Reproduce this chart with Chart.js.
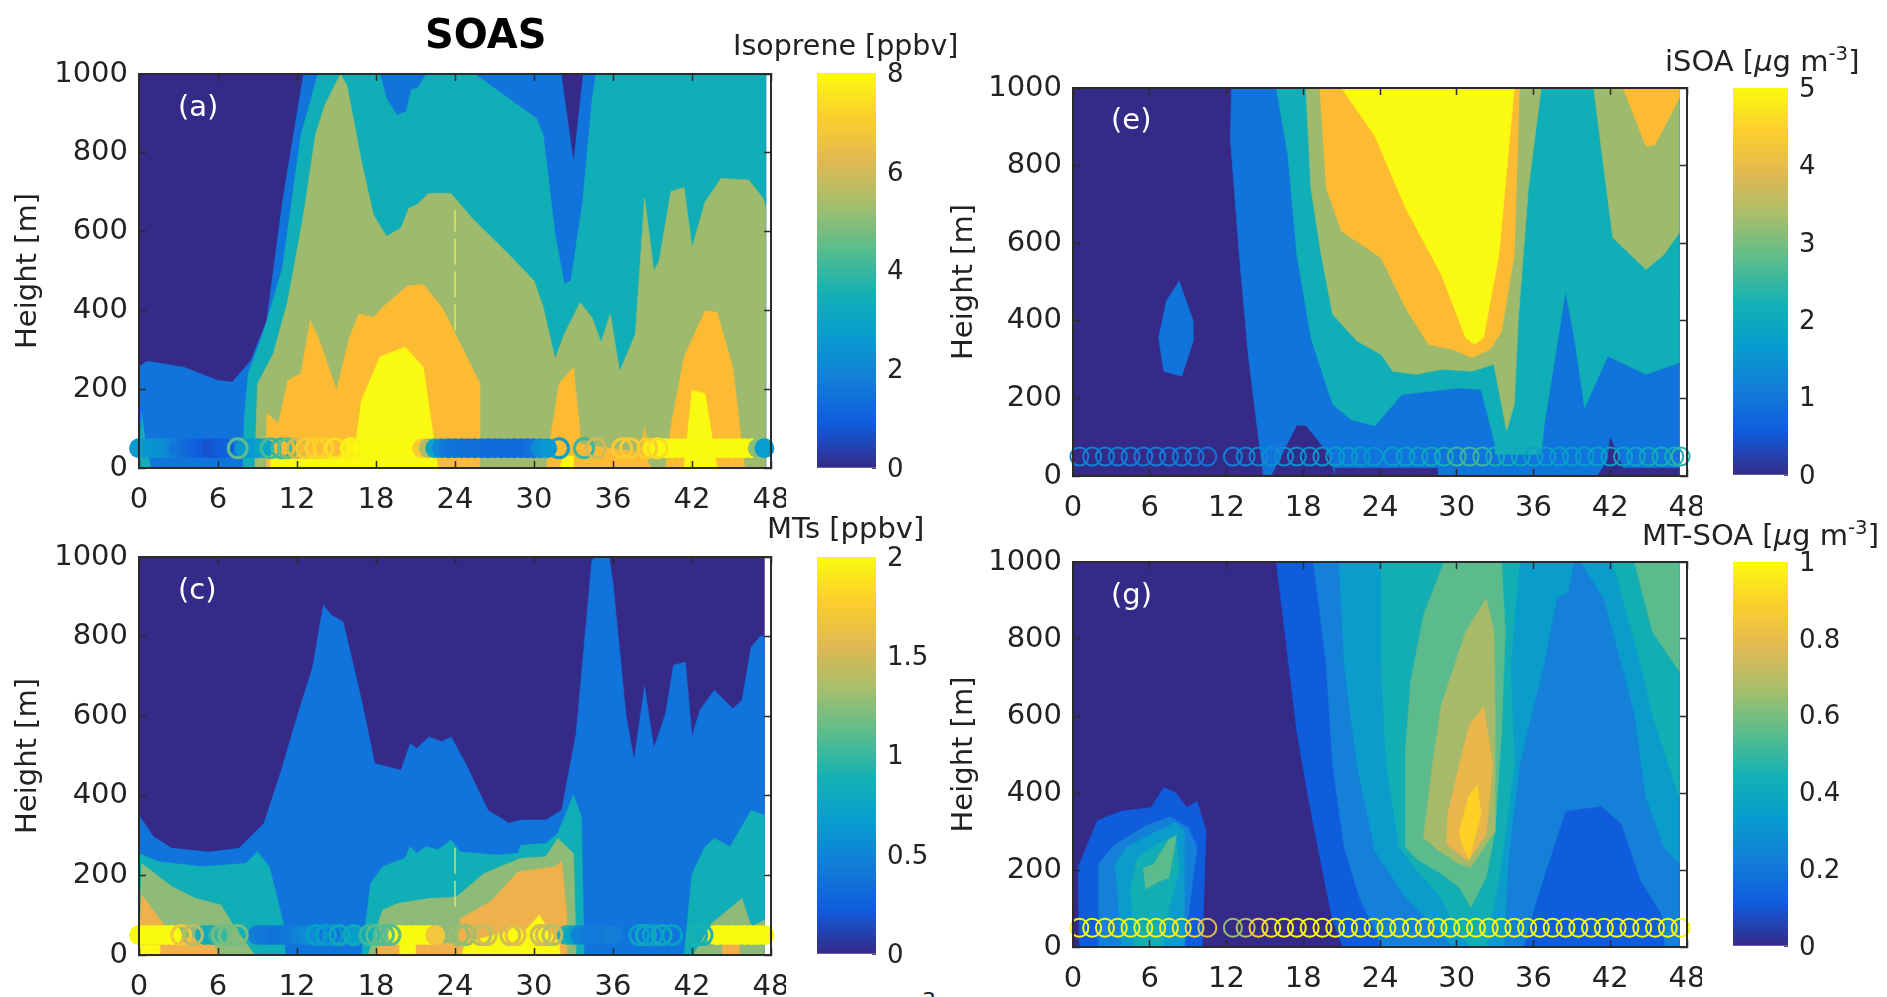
<!DOCTYPE html>
<html>
<head>
  <meta name="viewport" content="width=device-width, initial-scale=1.0">
  <title>SOAS</title>
  <script src="https://cdn.jsdelivr.net/npm/chart.js"></script>
  <style>
    html, body { margin: 0; padding: 0; background: #fff; overflow: hidden; width: 1887px; height: 997px; }
    canvas { position: absolute; filter: blur(0.5px); }
    .txt { position: absolute; font-family: "DejaVu Sans"; color: #222; white-space: nowrap; line-height: 1; }
    sup { font-size: 68%; line-height: 0; }
  </style>
</head>
<body>
<script>
  // ---- axis ticks
  const hourTicks = [0, 6, 12, 18, 24, 30, 36, 42, 48];
  const heightTicks = [0, 200, 400, 600, 800, 1000];
  const isopreneTicks = [0, 2, 4, 6, 8];
  const mtTicks = [0, 0.5, 1, 1.5, 2];
  const isoaTicks = [0, 1, 2, 3, 4, 5];
  const mtsoaTicks = [0, 0.2, 0.4, 0.6, 0.8, 1];

  // ---- contour outlines as [hour, height]
  // panel a, isoprene
  const aBack = [[0,0],[0,1000],[47.6,1000],[47.6,0]];
  const aBlue = [[0,0],[0,256],[0.6,271],[3.4,256],[6,222],[7.1,218],[8.5,273],[9.7,374],[10.9,676],[12.5,1000],[47.6,1000],[47.6,0]];
  const aSpike = [[32.1,1000],[33,786],[33.7,1000]];
  const aTealEdge = [[0,0],[0.2,140],[0.5,60],[0.9,0]];
  const aTeal = [[7.9,0],[8,130],[8.3,240],[9.5,349],[10.9,508],[12.3,845],[13.6,1000],[18.3,1000],[18.8,937],[19.6,895],[20.3,905],[20.7,960],[21.2,965],[21.8,1000],[25.5,1000],[30.2,887],[30.7,845],[31.6,592],[32.3,466],[32.8,475],[33.7,676],[34.4,929],[34.7,1000],[47.6,1000],[47.6,0]];
  const aOlive = [[8.8,0],[9,214],[10.2,290],[11.3,424],[12.5,643],[13.4,845],[14.1,920],[15.3,1000],[15.8,970],[16.9,777],[17.8,643],[18.8,588],[19.9,609],[20.5,660],[21.1,668],[22,697],[23.7,697],[25.3,634],[28.1,542],[30,475],[30.7,408],[31.6,277],[32.3,340],[33.5,420],[34.4,382],[35.1,319],[35.8,391],[36.5,244],[37.7,340],[38.4,685],[39.1,500],[39.5,525],[40.4,702],[41.4,712],[42,559],[43,676],[44.2,735],[46.3,731],[47.4,685],[47.6,660],[47.6,0]];
  const aOrange1 = [[9.7,0],[9.7,139],[10.6,113],[11.3,223],[12.3,239],[13,374],[13.7,324],[15,197],[16,332],[16.7,391],[17.8,382],[18.5,408],[20.4,462],[21.6,466],[23,408],[24.4,315],[25.9,214],[25.9,0]];
  const aOrange2 = [[30.9,0],[31.9,214],[33,256],[33.5,88],[33.5,60],[38,40],[39,0]];
  const aOrange3 = [[37.9,0],[38.4,105],[38.7,0]];
  const aOrange4 = [[40,0],[40.4,105],[41.4,282],[43,399],[43.9,395],[45.1,256],[46,0]];
  const aYellow1 = [[16.2,0],[16.9,172],[18.3,282],[20.2,307],[21.6,256],[22.7,0]];
  const aYellow2 = [[41.4,0],[42,197],[43,189],[43.9,0]];
  const aYellow3 = [[10,0],[10,30],[16.5,30],[16.5,0]];
  const aYellow4 = [[32,0],[32.2,30],[33,30],[33,0]];

  // panel c, monoterpenes
  const cBack = [[0,0],[0,1000],[47.5,1000],[47.5,0]];
  const cBlue = [[0,0],[0,351],[1.1,297],[2.5,268],[5.3,259],[7.6,268],[9.5,331],[10.9,473],[12,598],[13.2,724],[14,879],[14.6,854],[15.5,837],[16.9,640],[17.9,481],[19.9,464],[20.6,531],[21.1,519],[22,548],[23,536],[23.7,548],[24.8,481],[26.5,364],[28.1,331],[29,339],[30.9,339],[32.1,364],[33.2,556],[34.4,992],[34.7,1000],[35.7,1000],[36,933],[37,598],[37.6,489],[38.4,674],[39.1,519],[40,607],[40.6,728],[41.5,736],[42,548],[42.6,615],[43.7,665],[45.1,619],[45.8,640],[46.5,774],[47.2,801],[47.5,801],[47.5,0]];
  const cTeal1 = [[0,0],[0,255],[1.5,234],[4.8,222],[8.1,230],[9,259],[9.9,222],[11,75],[11.1,0]];
  const cTeal2 = [[16.9,0],[17.6,180],[18.5,222],[20.2,243],[20.6,272],[21.1,255],[21.8,272],[22.7,264],[23.7,289],[24.4,259],[27.2,251],[28.8,255],[29,276],[30.9,280],[31.8,305],[33,402],[33.6,347],[33.8,0]];
  const cTeal3 = [[41.4,0],[42,205],[43,272],[43.7,293],[44.9,272],[46.5,364],[47.5,351],[47.5,0]];
  const cOlive1 = [[0,0],[0.2,230],[2.5,172],[4.3,142],[6.2,126],[7.4,63],[8.8,0]];
  const cOlive2 = [[17.4,0],[18.5,113],[19.7,130],[22,142],[24.1,146],[26.2,205],[29,243],[30.9,247],[31.8,293],[33,255],[33.2,0]];
  const cOlive3 = [[42.1,0],[43.5,80],[45.8,142],[46.5,71],[47.5,88],[47.5,0]];
  const cOrange1 = [[0,0],[0.2,151],[1.8,80],[2.5,45],[5.5,40],[6,0]];
  const cOrange2 = [[24.1,0],[24.4,92],[26.7,134],[28.8,209],[31.6,222],[32.1,234],[32.5,96],[32.5,0]];
  const cOrange3 = [[18.1,0],[18.1,30],[24.1,30],[24.1,0]];
  const cOrange4 = [[44.3,0],[44.3,30],[45.6,30],[45.6,0]];
  const cYellow1 = [[0.1,0],[0.1,25],[1.6,25],[1.6,0]];
  const cYellow2 = [[19.8,0],[19.8,30],[21,30],[21,0]];
  const cYellow3 = [[24.5,0],[24.8,30],[28,60],[28.7,75],[29.3,60],[30.4,100],[31,70],[31.9,30],[32,0]];

  // panel e, iSOA
  const eBack = [[0,0],[0,1000],[47.4,1000],[47.4,0]];
  const eBlob = [[8.3,502],[9.4,399],[9.4,348],[8.5,257],[7.1,270],[6.7,356],[7.3,451]];
  const eBlue = [[12.4,1000],[12.3,871],[13,571],[13.7,313],[14.6,73],[14.9,0],[47.4,0],[47.4,1000]];
  const eDark1 = [[15.5,0],[16.5,64],[17.5,129],[18.2,129],[19.8,64],[20.5,0]];
  const eDark2 = [[20.5,0],[20.5,20],[28.5,20],[28.5,0]];
  const eDark3 = [[41,0],[41.8,40],[42,99],[43,20],[47.4,20],[47.4,0]];
  const eTeal = [[15.9,1000],[16.8,828],[17.5,571],[18.6,356],[20.3,185],[21.7,146],[23.6,129],[25.7,210],[30.2,227],[31.9,223],[33,82],[33,56],[36.6,56],[36.8,124],[38.5,476],[39.2,356],[40,176],[41.8,309],[44.8,262],[47.4,292],[47.4,1000]];
  const eOlive1 = [[18.2,1000],[18.6,742],[19.4,571],[20.3,416],[22.2,348],[24.1,313],[25,270],[26.9,262],[28.8,275],[31.2,270],[32.9,288],[33.9,116],[34.5,185],[34.8,399],[35.6,742],[36.6,1000]];
  const eOlive2 = [[40.7,1000],[42.2,614],[44.8,532],[46.2,571],[47.4,627],[47.4,1000]];
  const eOrange1 = [[19.3,1000],[19.8,742],[21,631],[24.1,562],[26,433],[27.8,339],[29.7,326],[31.2,305],[32.6,326],[33.5,373],[34.5,571],[34.9,1000]];
  const eOrange2 = [[43,1000],[44.8,850],[45.5,854],[47.4,974],[47.4,1000]];
  const eYellow = [[21,1000],[23.6,876],[26,691],[28.8,519],[30.7,356],[31.4,339],[32.1,356],[33.3,571],[34.5,1000]];

  // panel g, MT-SOA
  const gBack = [[0,0],[0,1000],[47.4,1000],[47.4,0]];
  const gBlue1 = [[0.5,0],[0.4,207],[1.9,328],[3.8,353],[6.1,362],[7.1,414],[8,401],[8.9,362],[9.7,378],[10.4,302],[10.1,0]];
  const gBlue2 = [[15.9,1000],[17.5,560],[18.4,388],[19.4,216],[20.3,69],[21.1,0],[47.4,0],[47.4,1000]];
  const gMid1 = [[2,0],[2,216],[3.3,267],[5.7,315],[7.6,338],[9,310],[9.7,259],[8.7,0]];
  const gMid2 = [[18.8,1000],[19.8,733],[20.3,474],[21.2,259],[22.4,129],[23.6,43],[24.1,0],[35.2,0],[36.3,129],[38.5,353],[41.3,366],[42.9,319],[44.4,172],[46,86],[46.3,0],[47.4,0],[47.4,1000]];
  const gSky1 = [[3.8,0],[3.3,216],[4.2,259],[6.1,293],[8,323],[8.7,302],[8.7,216],[8.7,0]];
  const gSky2 = [[20.8,1000],[21.2,733],[22.2,474],[23.6,250],[26,129],[28.3,52],[29.7,0],[33.7,0],[34,216],[34.9,474],[36.8,733],[37.8,905],[38.7,922],[39.2,1000]];
  const gSky3 = [[39.7,1000],[41.5,905],[42.9,733],[43.9,603],[44.8,388],[46.2,259],[47.4,216],[47.4,1000]];
  const gTeal1 = [[4.8,0],[4.5,150],[5,230],[6.5,265],[8,290],[8.3,200],[7.5,100],[7,0]];
  const gTeal2 = [[24.1,1000],[24.1,733],[24.5,474],[25.5,259],[26.9,198],[28.8,129],[29.7,60],[31.1,0],[32.3,0],[33.5,216],[34.5,474],[34.2,733],[34.9,1000]];
  const gTeal3 = [[42.2,1000],[44.4,733],[45.3,603],[47.4,388],[47.4,1000]];
  const gGreen1 = [[5.7,150],[5.5,205],[6.3,215],[7.5,280],[8.1,290],[7.5,180],[6.7,170]];
  const gGreen2 = [[29,1000],[27.4,862],[26.4,690],[26,517],[26,259],[26.9,228],[28.8,190],[30.2,155],[31.1,103],[32.3,181],[33,302],[33.5,560],[33.8,819],[33.5,1000]];
  const gGreen3 = [[43.9,1000],[45.3,819],[47.4,716],[47.4,1000]];
  const gOlive = [[27.4,284],[28.1,474],[28.8,629],[30.7,819],[32.3,905],[32.9,819],[33,603],[33,302],[31.1,207],[30.2,216],[28.6,250]];
  const gGold = [[32.1,625],[31,578],[30.2,474],[29.3,345],[29.2,267],[30.9,224],[32.3,293],[32.8,474]];
  const gYellow = [[31.6,422],[30.9,388],[30.2,302],[30.4,267],[31,228],[31.4,284],[31.9,345]];

  // ---- observations near 50 m
  const obsHeight = 50;
  const aDenseHours = [0,0.5,1,1.5,2,2.5,3,3.5,4,4.5,5,5.5,6,6.5,8,8.5,9,9.5,16,16.5,17,17.5,18,18.5,19,19.5,20,20.5,21,21.5,22,22.5,23,23.5,24,24.5,25,25.5,26,26.5,27,27.5,28,28.5,29,29.5,30,30.5,31,39,39.5,40,40.5,41,41.5,42,42.5,43,43.5,44,44.5,45,45.5,46,46.5,47,47.5];
  const aDenseValues = [2.6,2.6,2.5,2.4,2.3,2,1.6,1.4,1.2,1,0.9,0.7,0.8,1,2.5,2.6,2.6,3,7.8,7.8,8,8,8,8,8,8,8,8,8,7,5.5,3,2,1.6,1.5,1.5,1.4,1.4,1.4,1.3,1.3,1.3,1.3,1.3,1.3,1.3,1.5,2.2,2.5,7.8,7.9,8,8,8,8,8,8,8,8,8,8,8,8,8,8,5,2.7];
  const aRingHours = [7.5,10,10.8,11.3,12,12.7,13.4,14,14.9,16.1,31.9,33.8,34.7,36.7,37.3,38.6,39.4];
  const aRingValues = [4.5,4.2,4,4.6,6,7,7.2,7.2,7.5,7.8,2.6,4,6,7,7,7,7.4];
  const cDenseHours = [0,0.5,1,1.5,2,2.5,5,5.5,6,9,9.5,10,10.5,11,11.5,12,12.5,13,16.5,19.7,20,20.5,21,21.5,22,22.5,32.5,33,33.5,34,34.5,35,35.5,36,43.8,44,44.5,45,45.5,46,46.5,47,47.5];
  const cDenseValues = [2,2,2,2,2,2,0.85,0.8,1,0.45,0.42,0.4,0.38,0.4,0.42,0.45,0.5,0.55,0.7,2,2,2,2,2,2,1.7,0.9,0.75,0.5,0.45,0.42,0.42,0.42,0.45,2,2,2,2,2,2,2,2,2];
  const cRingHours = [3.2,4.1,6.3,6.8,7.5,13.5,14.2,14.7,15.2,16.3,17.5,18,18.6,19.1,24.3,24.8,26,26.4,28.2,28.6,30.5,30.9,31.4,38,38.5,39,39.7,40.5,42.4,42.8];
  const cRingValues = [1.7,1.4,1.2,1.2,1.2,0.7,0.7,0.6,0.8,0.8,1,1.1,1.1,1.1,1.3,1.3,1.4,1.5,1.5,1.6,1.5,1.5,1.4,0.7,0.8,0.7,0.8,0.7,0.9,0.9];
  const eRingHours = [0.5,1.5,2.5,3.5,4.5,5.5,6.5,7.5,8.5,9.5,10.5,12.5,13.5,14.5,15.5,16.5,17.5,18.5,19.5,20.5,21.5,22.5,23.5,25,26,27,28,29,30,31,32,33,34,35,36,37,38,39,40,41,42,43,44,45,46,47,47.5];
  const eRingValues = [1.2,1.2,1.2,1.2,1.1,1.1,1.1,1.1,1.1,1.1,1,1.2,1.2,1.3,1.4,1.4,1.5,1.5,1.6,1.7,1.7,1.6,1.6,1.7,1.8,1.8,2,2.2,2.5,2.6,2.5,2.2,2.1,2,1.8,1.8,1.7,1.7,1.7,1.8,1.8,1.9,1.9,2,2.1,2.2,2.4];
  const gRingHours = [0.5,1.5,2.5,3.5,4.5,5.5,6.5,7.5,8.5,9.5,10.5,12.5,13.5,14.5,15.5,16.5,17.5,18.5,19.5,20.5,21.5,22.5,23.5,24.5,25.5,26.5,27.5,28.5,29.5,30.5,31.5,32.5,33.5,34.5,35.5,36.5,37.5,38.5,39.5,40.5,41.5,42.5,43.5,44.5,45.5,46.5,47.5];
  const gRingValues = [1,1,0.98,0.98,0.98,0.98,0.98,0.98,0.96,0.9,0.8,0.65,0.7,0.9,0.95,1,1,1,1,1,1,1,1,1,1,1,1,1,1,1,1,1,1,1,1,1,1,1,1,1,1,1,1,1,1,1,1];

  // thin dashed vertical in the two left panels
  const aDash = [[24,349],[24,655]];
  const cDash = [[24,121],[24,280]];

  // ---- colours
  const navy = '#352a87', blue = '#1174dc', teal = '#10aeb6', olive = '#9eba6c', orange = '#fdbb33', yellow = '#f9f911';
  const parulaStops = ['#352a87','#0f5cdd','#127dd8','#079ccf','#15b1b4','#59bd8c','#a5be6b','#e1b952','#fcce2e','#f9fb0e'];

  function parula(fraction) {
    const f = Math.min(1, Math.max(0, fraction)) * (parulaStops.length - 1);
    const i = Math.min(parulaStops.length - 2, Math.floor(f));
    const a = parseInt(parulaStops[i].slice(1), 16), b = parseInt(parulaStops[i + 1].slice(1), 16);
    const mix = s => Math.round(((a >> s) & 255) * (1 - (f - i)) + ((b >> s) & 255) * (f - i));
    return `rgb(${mix(16)},${mix(8)},${mix(0)})`;
  }

  // fills each outline dataset using the points the scales placed
  const regionFill = {
    id: 'regionFill',
    beforeDatasetDraw(chart, args) {
      const ds = chart.data.datasets[args.index];
      if (!ds.region) return;
      const { ctx, chartArea: a } = chart;
      ctx.save();
      ctx.beginPath();
      ctx.rect(a.left, a.top, a.right - a.left, a.bottom - a.top);
      ctx.clip();
      ctx.beginPath();
      args.meta.data.forEach((p, i) => i ? ctx.lineTo(p.x, p.y) : ctx.moveTo(p.x, p.y));
      ctx.closePath();
      ctx.fillStyle = ds.region;
      ctx.strokeStyle = ds.region;
      ctx.lineWidth = 0.6;
      ctx.fill();
      ctx.stroke();
      ctx.restore();
    }
  };

  function toPoints(list) { return list.map(p => ({ x: p[0], y: p[1] })); }

  function addCanvas(left, top, width, height) {
    const c = document.createElement('canvas');
    c.width = width; c.height = height;
    c.style.left = left + 'px'; c.style.top = top + 'px';
    c.style.width = width + 'px'; c.style.height = height + 'px';
    document.body.appendChild(c);
    return c;
  }

  const axisColor = '#2b2b2b';
  const tickFont = { family: 'DejaVu Sans', size: 29 };

  function contourPanel(box, regions, dash, obs, maxValue) {
    const left = box.titleX - 17, top = box.top - 30, right = box.right + 15, bottom = box.bottom + 50;
    const datasets = regions.map((r, i) => ({
      type: 'scatter', data: toPoints(r[1]), region: r[0], showLine: false, pointRadius: 0, order: 100 - i
    }));
    if (dash) datasets.push({
      type: 'scatter', data: toPoints(dash), showLine: true, borderColor: '#f4f05a', borderWidth: 1.2,
      borderDash: [26, 7], pointRadius: 0, order: 50
    });
    if (obs.denseHours) datasets.push({
      type: 'scatter', clip: false, order: 40,
      data: obs.denseHours.map(h => ({ x: h, y: obsHeight })),
      pointRadius: 10, pointBorderWidth: 0,
      pointBackgroundColor: obs.denseValues.map(v => parula(v / maxValue))
    });
    datasets.push({
      type: 'scatter', clip: false, order: 30,
      data: obs.ringHours.map(h => ({ x: h, y: obsHeight })),
      pointRadius: obs.radius, pointBorderWidth: obs.width, pointBackgroundColor: 'transparent',
      pointBorderColor: obs.ringValues.map(v => parula(v / maxValue))
    });
    const edge = { color: axisColor, width: 2, z: 2 };
    const inner = { drawOnChartArea: false, tickLength: -7, tickColor: axisColor, tickWidth: 1.5, z: 2 };
    const flat = s => { s.paddingLeft = s.paddingRight = s.paddingTop = s.paddingBottom = 0; };
    new Chart(addCanvas(left, top, right - left, bottom - top), {
      type: 'scatter',
      data: { datasets },
      plugins: [regionFill],
      options: {
        responsive: false, animation: false,
        layout: { padding: { top: box.top - top + 2, right: right - box.right, left: 0, bottom: 0 } },
        plugins: { legend: { display: false }, tooltip: { enabled: false } },
        scales: {
          x: {
            type: 'linear', position: 'bottom', min: 0, max: 48, border: edge, grid: inner,
            afterBuildTicks: s => { s.ticks = hourTicks.map(v => ({ value: v })); },
            afterFit: s => { s.height = bottom - box.bottom; flat(s); },
            ticks: { font: tickFont, color: '#222', padding: 22, autoSkip: false, maxRotation: 0, minRotation: 0, callback: v => v }
          },
          y: {
            type: 'linear', position: 'left', min: 0, max: 1000, border: edge, grid: inner,
            afterBuildTicks: s => { s.ticks = heightTicks.map(v => ({ value: v })); },
            afterFit: s => { s.width = box.left - left; flat(s); },
            title: { display: true, text: 'Height [m]', font: tickFont, color: '#222', padding: 0 },
            ticks: { font: tickFont, color: '#222', padding: 18, callback: v => v }
          },
          xTop: {
            type: 'linear', position: 'top', min: 0, max: 48, border: edge, grid: inner,
            afterBuildTicks: s => { s.ticks = hourTicks.map(v => ({ value: v })); },
            afterFit: s => { s.height = 0; flat(s); },
            ticks: { display: false }
          },
          yRight: {
            type: 'linear', position: 'right', min: 0, max: 1000, border: edge, grid: inner,
            afterBuildTicks: s => { s.ticks = heightTicks.map(v => ({ value: v })); },
            afterFit: s => { s.width = 0; flat(s); },
            ticks: { display: false }
          }
        }
      }
    });
  }

  function colorBar(box, ticks) {
    const maxValue = ticks[ticks.length - 1];
    const left = box.left, top = box.top - 22, width = box.right - box.left + 60, height = box.bottom - box.top + 44;
    new Chart(addCanvas(left, top, width, height), {
      type: 'bar',
      data: {
        labels: ['scale'],
        datasets: [{
          data: [[0, maxValue]], barPercentage: 1, categoryPercentage: 1,
          backgroundColor: ctx => {
            const area = ctx.chart.chartArea;
            if (!area || !Number.isFinite(area.top) || !Number.isFinite(area.bottom)) return navy;
            const g = ctx.chart.ctx.createLinearGradient(0, area.bottom, 0, area.top);
            parulaStops.forEach((c, i) => g.addColorStop(i / (parulaStops.length - 1), c));
            return g;
          }
        }]
      },
      options: {
        responsive: false, animation: false,
        layout: { padding: { top: 22, bottom: 22 } },
        plugins: { legend: { display: false }, tooltip: { enabled: false } },
        scales: {
          x: { display: false },
          y: {
            position: 'right', min: 0, max: maxValue,
            border: { display: false },
            grid: { drawOnChartArea: false, tickLength: -4, tickColor: '#555', tickWidth: 1 },
            afterBuildTicks: s => { s.ticks = ticks.map(v => ({ value: v })); },
            afterFit: s => { s.width = 60; s.paddingTop = s.paddingBottom = 0; },
            ticks: { font: { family: 'DejaVu Sans', size: 26 }, color: '#222', padding: 15, labelOffset: 2, callback: v => v }
          }
        }
      }
    });
  }

  function addText(html, left, centerY, size, extra) {
    const d = document.createElement('div');
    d.className = 'txt';
    d.innerHTML = html;
    d.style.left = left + 'px';
    d.style.top = (centerY - size / 2) + 'px';
    d.style.fontSize = size + 'px';
    if (extra) Object.assign(d.style, extra);
    document.body.appendChild(d);
    return d;
  }

  contourPanel({ titleX: 28, left: 139, right: 771, top: 72, bottom: 468 },
    [[navy, aBack], [blue, aBlue], [navy, aSpike], [teal, aTealEdge], [teal, aTeal], [olive, aOlive],
     [orange, aOrange1], [orange, aOrange2], [orange, aOrange3], [orange, aOrange4],
     [yellow, aYellow1], [yellow, aYellow2], [yellow, aYellow3], [yellow, aYellow4]],
    aDash,
    { denseHours: aDenseHours, denseValues: aDenseValues, ringHours: aRingHours, ringValues: aRingValues, radius: 9.5, width: 3 }, 8);

  const cGreen = '#8fbb78', cOrange = '#f0b14d';
  contourPanel({ titleX: 28, left: 139, right: 771, top: 555, bottom: 955 },
    [[navy, cBack], [blue, cBlue], [teal, cTeal1], [teal, cTeal2], [teal, cTeal3],
     [cGreen, cOlive1], [cGreen, cOlive2], [cGreen, cOlive3],
     [cOrange, cOrange1], [cOrange, cOrange2], [cOrange, cOrange3], [cOrange, cOrange4],
     [yellow, cYellow1], [yellow, cYellow2], [yellow, cYellow3]],
    cDash,
    { denseHours: cDenseHours, denseValues: cDenseValues, ringHours: cRingHours, ringValues: cRingValues, radius: 9.5, width: 3 }, 2);

  contourPanel({ titleX: 964, left: 1073, right: 1687, top: 86, bottom: 476 },
    [[navy, eBack], [blue, eBlob], [blue, eBlue], [navy, eDark1], [navy, eDark2], [navy, eDark3],
     [teal, eTeal], [olive, eOlive1], [olive, eOlive2], [orange, eOrange1], [orange, eOrange2], [yellow, eYellow]],
    null,
    { ringHours: eRingHours, ringValues: eRingValues, radius: 9, width: 2 }, 5);

  const gBlueA = '#0f5cdd', gBlueB = '#1480d8', gSky = '#0a9ccb', gTeal = '#12aeb4', gGreen = '#5cbb8c', gOliveC = '#a6ba6a', gGoldC = '#eab64c', gYellowC = '#fcd024';
  contourPanel({ titleX: 964, left: 1073, right: 1687, top: 560, bottom: 947 },
    [[navy, gBack], [gBlueA, gBlue1], [gBlueA, gBlue2], [gBlueB, gMid1], [gBlueB, gMid2],
     [gSky, gSky1], [gSky, gSky2], [gSky, gSky3], [gTeal, gTeal1], [gTeal, gTeal2], [gTeal, gTeal3],
     [gGreen, gGreen1], [gGreen, gGreen2], [gGreen, gGreen3], [gOliveC, gOlive], [gGoldC, gGold], [gYellowC, gYellow]],
    null,
    { ringHours: gRingHours, ringValues: gRingValues, radius: 9, width: 2 }, 1);

  colorBar({ left: 817, right: 876, top: 73, bottom: 468 }, isopreneTicks);
  colorBar({ left: 817, right: 876, top: 557, bottom: 954 }, mtTicks);
  colorBar({ left: 1733, right: 1788, top: 88, bottom: 475 }, isoaTicks);
  colorBar({ left: 1733, right: 1788, top: 562, bottom: 946 }, mtsoaTicks);

  addText('SOAS', 425, 34, 40, { fontWeight: 'bold', color: '#000' });
  addText('Isoprene [ppbv]', 733, 46, 28.5, { width: '224px', overflow: 'hidden', lineHeight: '1.3', top: '27px' });
  addText('MTs [ppbv]', 767, 528, 29);
  addText('iSOA [<i>&mu;</i>g m<sup>-3</sup>]', 1665, 61, 29);
  addText('MT-SOA [<i>&mu;</i>g m<sup>-3</sup>]', 1642, 535, 29);
  addText('3', 922, 1001, 22);

  [['(a)', 178, 106], ['(c)', 178, 589], ['(e)', 1111, 119], ['(g)', 1111, 594]].forEach(t => {
    addText(t[0], t[1], t[2], 29, { color: '#fff' });
  });
</script>
</body>
</html>
